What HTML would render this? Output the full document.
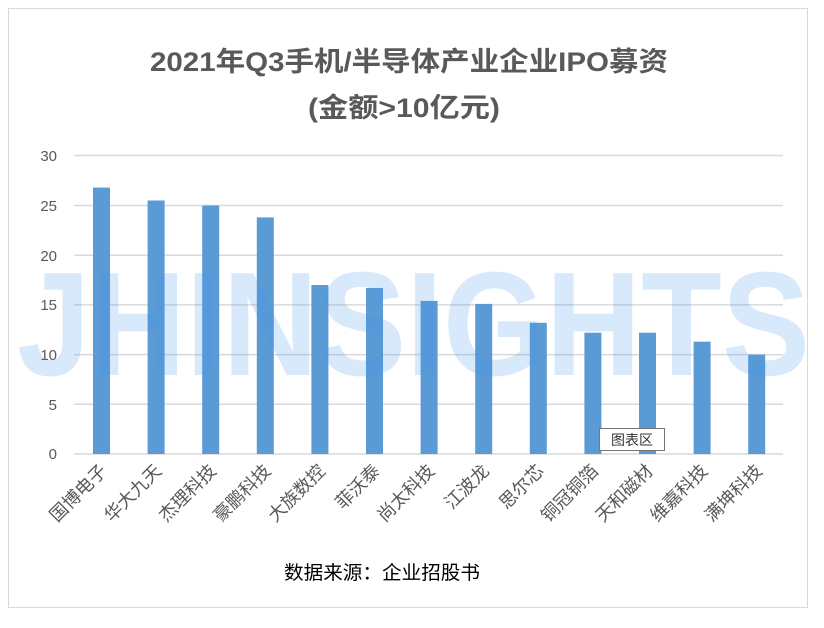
<!DOCTYPE html>
<html><head><meta charset="utf-8"><style>
body{margin:0;background:#fff;}
svg{display:block;}
</style></head><body>
<svg width="824" height="628" xmlns="http://www.w3.org/2000/svg" font-family="Liberation Sans, Noto Sans CJK SC, sans-serif">
<rect x="0" y="0" width="824" height="628" fill="#fff"/>
<rect x="8.5" y="8.5" width="799" height="599" fill="#fff" stroke="#d9d9d9" stroke-width="1"/>
<text x="150" y="71" font-size="27" font-weight="bold" fill="#595959" textLength="518" lengthAdjust="spacingAndGlyphs">2021年Q3手机/半导体产业企业IPO募资</text>
<text x="308" y="117" font-size="27" font-weight="bold" fill="#595959" textLength="192" lengthAdjust="spacingAndGlyphs">(金额&gt;10亿元)</text>
<g stroke="#d9d9d9" stroke-width="1.5">
<line x1="74" y1="155.5" x2="783" y2="155.5"/>
<line x1="74" y1="205.5" x2="783" y2="205.5"/>
<line x1="74" y1="255.2" x2="783" y2="255.2"/>
<line x1="74" y1="304.9" x2="783" y2="304.9"/>
<line x1="74" y1="354.6" x2="783" y2="354.6"/>
<line x1="74" y1="404.3" x2="783" y2="404.3"/>
<line x1="74" y1="454" x2="783" y2="454"/>
</g>
<g font-size="15" fill="#595959" text-anchor="end">
<text x="57" y="161">30</text><text x="57" y="211">25</text><text x="57" y="261">20</text>
<text x="57" y="310">15</text><text x="57" y="360">10</text><text x="57" y="410">5</text><text x="57" y="459">0</text>
</g>
<g fill="#5b9bd5">
<rect x="93" y="187.6" width="17" height="266.4"/>
<rect x="147.6" y="200.5" width="17" height="253.5"/>
<rect x="202.2" y="205.5" width="17" height="248.5"/>
<rect x="256.8" y="217.4" width="17" height="236.6"/>
<rect x="311.4" y="285" width="17" height="169"/>
<rect x="366" y="288" width="17" height="166"/>
<rect x="420.6" y="300.9" width="17" height="153.1"/>
<rect x="475.2" y="303.9" width="17" height="150.1"/>
<rect x="529.8" y="322.8" width="17" height="131.2"/>
<rect x="584.4" y="332.7" width="17" height="121.3"/>
<rect x="639" y="332.7" width="17" height="121.3"/>
<rect x="693.6" y="341.7" width="17" height="112.3"/>
<rect x="748.2" y="354.6" width="17" height="99.4"/>
</g>
<text x="17" y="375" font-size="148" font-weight="bold" fill="#3f8ff0" fill-opacity="0.2" textLength="793" lengthAdjust="spacingAndGlyphs">JHINSIGHTS</text>
<g font-size="18" fill="#595959" text-anchor="end">
<text transform="translate(108,472) rotate(-45)">国博电子</text>
<text transform="translate(162.6,472) rotate(-45)">华大九天</text>
<text transform="translate(217.2,472) rotate(-45)">杰理科技</text>
<text transform="translate(271.8,472) rotate(-45)">豪鹏科技</text>
<text transform="translate(326.4,472) rotate(-45)">大族数控</text>
<text transform="translate(381,472) rotate(-45)">菲沃泰</text>
<text transform="translate(435.6,472) rotate(-45)">尚太科技</text>
<text transform="translate(490.2,472) rotate(-45)">江波龙</text>
<text transform="translate(544.8,472) rotate(-45)">思尔芯</text>
<text transform="translate(599.4,472) rotate(-45)">铜冠铜箔</text>
<text transform="translate(654,472) rotate(-45)">天和磁材</text>
<text transform="translate(708.6,472) rotate(-45)">维嘉科技</text>
<text transform="translate(763.2,472) rotate(-45)">满坤科技</text>
</g>
<text x="284" y="579" font-size="19" fill="#000" textLength="196" lengthAdjust="spacingAndGlyphs">数据来源：企业招股书</text>
<rect x="599.5" y="428.5" width="65" height="22" fill="#fff" stroke="#767676"/>
<text x="632" y="445" text-anchor="middle" font-size="14" fill="#333">图表区</text>
</svg>
</body></html>
